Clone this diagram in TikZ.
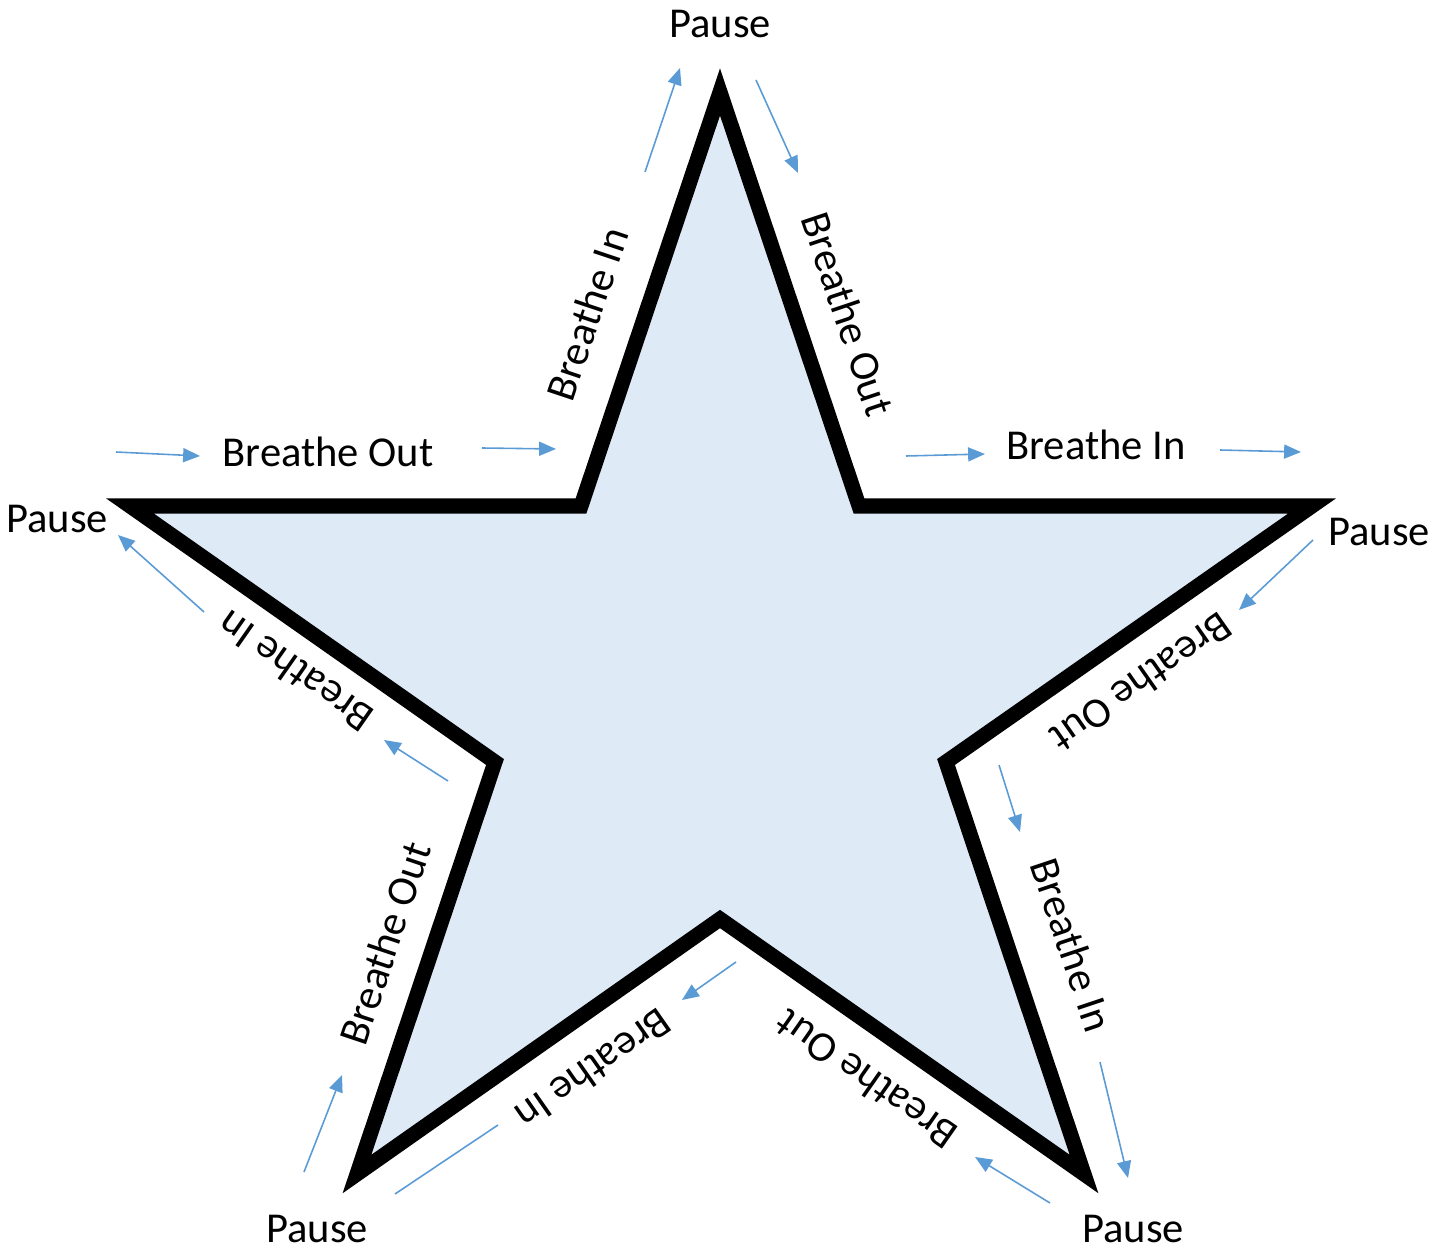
\documentclass[tikz,border=0pt]{standalone}
\usepackage{fontspec}
\setmainfont{Carlito}
\usetikzlibrary{arrows.meta}

\definecolor{starfill}{HTML}{DEEBF7}
\definecolor{flowblue}{HTML}{5B9BD5}

\begin{document}
\begin{tikzpicture}[x=0.01cm, y=-0.01cm,
  lbl/.style={font=\fontsize{12.1}{14}\selectfont, inner sep=0pt},
  flow/.style={flowblue, line width=0.45pt, -{Triangle[length=4.8pt, width=4pt]}}]

\useasboundingbox (0,0) rectangle (1448,1249);

% Star
\coordinate (T) at (720,92);
\coordinate (UR) at (859,506);
\coordinate (R) at (1312,506);
\coordinate (RI) at (946,762);
\coordinate (BR) at (1084,1174);
\coordinate (BI) at (720,919);
\coordinate (BL) at (357,1174);
\coordinate (LI) at (495,762);
\coordinate (L) at (130,506);
\coordinate (UL) at (581,506);

\draw[line width=0.15cm, fill=starfill] (T) -- (UR) -- (R) -- (RI) -- (BR)
  -- (BI) -- (BL) -- (LI) -- (L) -- (UL) -- cycle;

% Pauses
\node[lbl] (p1) at (720,24) {Pause};
\node[lbl] (p2) at (1379,532) {Pause};
\node[lbl] (p3) at (1133,1229) {Pause};
\node[lbl] (p4) at (317,1229) {Pause};
\node[lbl] (p5) at (57,519) {Pause};

% Breathing
\node[lbl, rotate=71.5] (b1) at (587,314) {Breathe In};
\node[lbl, rotate=-71.5] (b2) at (848,314) {Breathe Out};
\node[lbl] (b3) at (1096,445) {Breathe In};
\node[lbl, rotate=215] (b4) at (1142,683) {Breathe Out};
\node[lbl, rotate=-71.5] (b5) at (1072,945) {Breathe In};
\node[lbl, rotate=145] (b6) at (866,1080) {Breathe Out};
\node[lbl, rotate=215] (b7) at (594,1070) {Breathe In};
\node[lbl, rotate=71.5] (b8) at (385,943) {Breathe Out};
\node[lbl, rotate=145] (b9) at (295,672) {Breathe In};
\node[lbl] (b10) at (328,452) {Breathe Out};

% Arrows
\foreach \n/\sx/\sy/\ex/\ey in {1/645/172/680/68, 2/756/80/798/173,
    3/906/456/985/454, 4/1220/450/1301/452,
    5/1313/540/1239/610, 6/999/765/1020/832,
    7/1100/1062/1128/1178, 8/1050/1203/975/1157,
    9/736/962/682/1000, 10/304/1172/342/1075,
    11/448/781/384/740, 12/204/612/118/535,
    13/116/452/200/456, 14/482/448/556/449}
{
  \coordinate (s\n) at (\sx,\sy);
  \coordinate (e\n) at (\ex,\ey);
  \draw[flow] (s\n) -- (e\n);
}
\coordinate (s15) at (395,1194);
\coordinate (e15) at (498,1125);
\draw[flowblue, line width=0.45pt] (s15) -- (e15);

\end{tikzpicture}
\end{document}
